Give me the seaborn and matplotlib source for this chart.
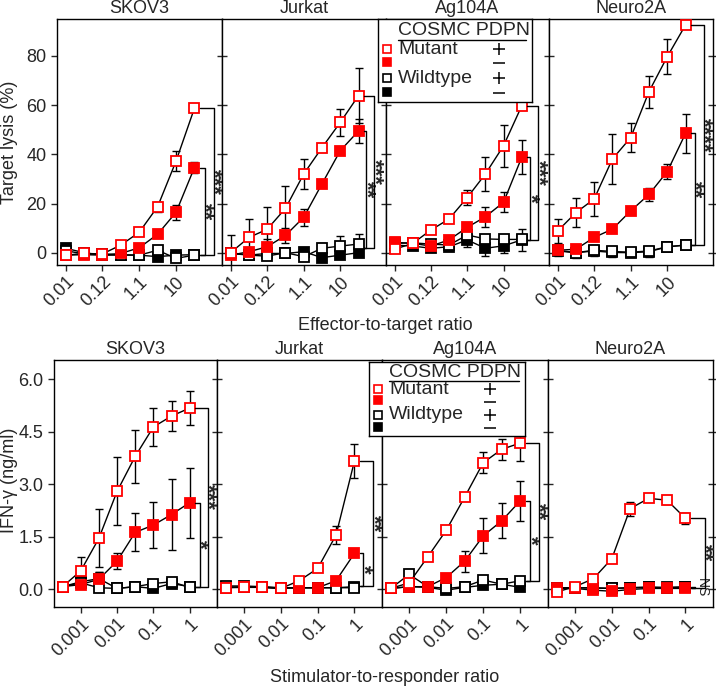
import numpy as np
import pandas as pd
import matplotlib
matplotlib.use("Agg")
import matplotlib.pyplot as plt
import seaborn as sns
from matplotlib.ticker import NullLocator

sns.set_style("ticks")
plt.rcParams["font.family"] = ["Liberation Sans", "DejaVu Sans"]
plt.rcParams["font.size"] = 13

CELLS = ["SKOV3", "Jurkat", "Ag104A", "Neuro2A"]
GROUPS = ["Mutant +", "Mutant -", "Wildtype +", "Wildtype -"]

# x values (3-fold / half-log dilutions)
ET_RATIO = [0.0137, 0.0412, 0.123, 0.370, 1.11, 3.33, 10, 30]
ET_LABELS = ["0.01", "0.12", "1.1", "10"]
SR_RATIO = [0.000316, 0.001, 0.00316, 0.01, 0.0316, 0.1, 0.316, 1]
SR_LABELS = ["0.001", "0.01", "0.1", "1"]

# target lysis (%) - rows follow GROUPS
SKOV3_LYSIS = [[-1.0, -0.3, -0.5, 3.1, 8.3, 18.7, 37.2, 58.7],
               [-1.0, -0.8, -1.0, -0.3, 2.0, 7.5, 16.4, 34.6],
               [0.8, -0.5, -0.5, -0.8, -1.0, 1.0, -2.3, -1.0],
               [1.8, 0.0, -1.0, -1.0, -1.0, -1.6, -1.0, -0.8]]
SKOV3_LYSIS_ERR = [[1, 0.5, 0.5, 1, 1, 2, 4, 1],
                   [1, 0.5, 0.5, 1, 1, 1, 3, 2.2],
                   [1, 0.5, 0.5, 0.5, 0.5, 1, 1.5, 0.5],
                   [0.5, 0.5, 0.5, 0.5, 0.5, 0.5, 0.5, 0.5]]
JURKAT_LYSIS = [[0.0, 6.2, 9.5, 18.0, 32.0, 42.7, 53.0, 63.9],
                [-1.0, 0.4, 2.4, 7.0, 14.4, 28.0, 41.5, 49.5],
                [0.0, -1.0, -1.4, 0.0, -1.6, 1.8, 2.7, 3.5],
                [-0.3, -1.0, -0.3, -0.3, 0.4, -2.0, -1.0, 0.0]]
JURKAT_LYSIS_ERR = [[7, 7.7, 9, 9, 6, 1, 5.6, 11],
                    [1, 1, 3, 3, 3.5, 1, 1, 5],
                    [1, 1, 1, 1, 1.5, 2, 4, 4],
                    [1, 0.5, 0.5, 0.5, 1, 1, 1, 1]]
AG104A_LYSIS = [[1.4, 3.8, 9.2, 13.7, 22.4, 32.0, 43.5, 59.7],
                [4.2, 3.8, 2.7, 5.2, 10.3, 14.6, 20.5, 38.8],
                [3.8, 4.0, 3.5, 3.1, 7.2, 5.6, 5.4, 5.4],
                [3.1, 2.7, 1.8, 2.4, 5.2, 1.8, 2.8, 5.2]]
AG104A_LYSIS_ERR = [[0.5, 0.5, 0.5, 1, 3, 7, 8.5, 1],
                    [0.5, 0.5, 0.5, 1, 1, 4, 4, 7],
                    [0.5, 1, 1, 1, 2, 1, 1, 1],
                    [0.5, 0.5, 1, 1, 3, 3, 3, 4.5]]
NEURO2A_LYSIS = [[8.8, 16.3, 21.8, 38.1, 46.8, 65.5, 79.7, 92.6],
                 [1.0, 1.4, 6.2, 9.6, 17.0, 23.7, 33.0, 48.5],
                 [1.0, 0.0, 1.0, 0.5, 0.2, 0.7, 2.4, 3.1],
                 [0.7, 0.0, 0.7, 0.1, 0.0, 0.4, 2.4, 3.1]]
NEURO2A_LYSIS_ERR = [[5, 6, 7, 10, 6, 6.5, 7, 0.5],
                     [1, 1, 1, 1, 1, 2.5, 3, 8],
                     [2, 2, 2, 2, 1, 2, 1, 1],
                     [2, 1, 2, 2, 1, 2, 1, 1]]

# IFN-gamma (ng/ml) - rows follow GROUPS
SKOV3_IFN = [[0.08, 0.53, 1.46, 2.80, 3.80, 4.64, 4.95, 5.18],
             [0.08, 0.14, 0.29, 0.81, 1.63, 1.84, 2.14, 2.48],
             [0.08, 0.19, 0.05, 0.03, 0.08, 0.17, 0.22, 0.06],
             [0.08, 0.22, 0.31, 0.03, 0.08, 0.03, 0.17, 0.08]]
SKOV3_IFN_ERR = [[0.02, 0.40, 0.83, 0.97, 0.75, 0.55, 0.44, 0.48],
                 [0.02, 0.10, 0.20, 0.23, 0.54, 0.65, 1.00, 1.00],
                 [0.02, 0.05, 0.03, 0.03, 0.03, 0.05, 0.05, 0.03],
                 [0.02, 0.10, 0.20, 0.03, 0.03, 0.03, 0.05, 0.03]]
JURKAT_IFN = [[0.05, 0.08, 0.06, 0.03, 0.25, 0.60, 1.55, 3.66],
              [0.05, 0.06, 0.06, 0.03, 0.05, 0.05, 0.25, 1.03],
              [0.10, 0.10, 0.08, 0.05, 0.05, 0.05, 0.05, 0.05],
              [0.07, 0.06, 0.07, 0.04, 0.05, 0.05, 0.05, 0.08]]
JURKAT_IFN_ERR = [[0.02, 0.02, 0.02, 0.02, 0.05, 0.05, 0.25, 0.48],
                  [0.02, 0.02, 0.02, 0.02, 0.02, 0.02, 0.05, 0.05],
                  [0.02, 0.02, 0.02, 0.02, 0.02, 0.02, 0.02, 0.03],
                  [0.02, 0.02, 0.02, 0.02, 0.02, 0.02, 0.02, 0.03]]
AG104A_IFN = [[0.03, 0.19, 0.93, 1.69, 2.64, 3.62, 4.00, 4.18],
              [0.03, 0.08, 0.08, 0.34, 0.81, 1.53, 1.96, 2.53],
              [0.03, 0.43, 0.08, 0.03, 0.08, 0.27, 0.15, 0.25],
              [0.03, 0.08, 0.06, -0.02, 0.06, 0.12, 0.15, 0.06]]
AG104A_IFN_ERR = [[0.02, 0.05, 0.02, 0.05, 0.05, 0.30, 0.30, 0.50],
                  [0.02, 0.02, 0.02, 0.05, 0.30, 0.50, 0.50, 0.58],
                  [0.02, 0.15, 0.03, 0.03, 0.03, 0.10, 0.05, 0.08],
                  [0.02, 0.03, 0.03, 0.03, 0.03, 0.05, 0.05, 0.03]]
NEURO2A_IFN = [[-0.07, 0.08, 0.31, 0.88, 2.31, 2.60, 2.55, 2.03],
               [0.03, 0.03, -0.02, -0.05, 0.0, 0.03, 0.03, 0.03],
               [0.05, 0.05, 0.05, 0.03, 0.05, 0.06, 0.06, 0.08],
               [0.05, 0.05, 0.04, 0.03, 0.05, 0.07, 0.05, 0.06]]
NEURO2A_IFN_ERR = [[0.02, 0.02, 0.02, 0.02, 0.20, 0.05, 0.10, 0.15],
                   [0.02, 0.02, 0.02, 0.02, 0.02, 0.02, 0.02, 0.02],
                   [0.02, 0.02, 0.02, 0.02, 0.02, 0.02, 0.02, 0.02],
                   [0.02, 0.02, 0.02, 0.02, 0.02, 0.02, 0.02, 0.02]]

# significance brackets: (top, bottom, offset in dilution steps, label)
LYSIS_SIG = [[(34.6, -1, 0.55, "**"), (58.7, -1, 1.05, "***")],
             [(49.5, 2, 0.42, "**"), (63.9, 2, 0.86, "***")],
             [(38.8, 5.2, 0.47, "*"), (59.7, 5.2, 0.9, "***")],
             [(48.5, 3.1, 0.5, "**"), (92.6, 3.1, 1.0, "****")]]
IFN_SIG = [[(2.48, 0.08, 0.55, "*"), (5.18, 0.08, 1.0, "***")],
           [(1.03, 0.10, 0.48, "*"), (3.66, 0.10, 1.03, "**")],
           [(2.53, 0.25, 0.55, "*"), (4.18, 0.25, 1.0, "**")],
           [(0.08, 0.03, 0.5, "NS"), (2.03, 0.05, 1.06, "**")]]

STYLE = {"Mutant +": ("white", "red"), "Mutant -": ("red", "red"),
         "Wildtype +": ("white", "black"), "Wildtype -": ("black", "black")}

W, H = 716, 688
fig = plt.figure(figsize=(W / 100, H / 100), dpi=100)


def px_axes(x0, x1, y0, y1):
    return fig.add_axes([x0 / W, 1 - y1 / H, (x1 - x0) / W, (y1 - y0) / H])


def to_long(ratio, values, errors):
    rows = []
    for g, vals, errs in zip(GROUPS, values, errors):
        for r, v, e in zip(ratio, vals, errs):
            rows.append({"group": g, "ratio": r, "value": v, "err": e})
    return pd.DataFrame(rows)


def draw_panel(ax, df):
    ax.set_xscale("log")
    for g in GROUPS[::-1]:
        sub = df[df["group"] == g]
        fc, ec = STYLE[g]
        ax.errorbar(sub["ratio"], sub["value"], yerr=sub["err"], fmt="none",
                    ecolor="black", elinewidth=1, capsize=3.2, capthick=1, zorder=2)
        sns.lineplot(data=sub, x="ratio", y="value", ax=ax, color="black", lw=1,
                     marker="s", markersize=7, markerfacecolor=fc,
                     markeredgecolor=ec, markeredgewidth=1.3,
                     estimator=None, sort=False, legend=False, zorder=3)


def bracket(ax, x_last, step, top, bot, off, label):
    x0 = x_last * step ** 0.3
    xb = x_last * step ** off
    ax.plot([x0, xb, xb, x0], [top, top, bot, bot], color="black", lw=1,
            clip_on=False, zorder=4)
    if label == "NS":
        ax.annotate(label, (xb, (top + bot) / 2), xytext=(0.5, 0),
                    textcoords="offset points", rotation=-90, ha="left",
                    va="center", fontsize=10, annotation_clip=False)
    else:
        # asterisks sit high in the em box, so centring puts them right of the line
        ax.annotate(label, (xb, (top + bot) / 2), xytext=(-0.5, 0),
                    textcoords="offset points", rotation=-90, ha="center",
                    va="center", fontsize=16, fontweight="bold",
                    annotation_clip=False)


def draw_row(xs, ys, ratio, step, ticks, labels, tables, sigs, ylim, yticks,
             yticklabels):
    for i, cell in enumerate(CELLS):
        ax = px_axes(xs[i], xs[i + 1], ys[0], ys[1])
        vals, errs = tables[i]
        draw_panel(ax, to_long(ratio, vals, errs))
        for top, bot, off, lab in sigs[i]:
            bracket(ax, ratio[-1], step, top, bot, off, lab)
        ax.set_xlim(ratio[0] / step ** 0.47, ratio[-1] * step ** 1.5)
        ax.set_ylim(*ylim)
        ax.set_xticks(ticks)
        ax.set_xticklabels(labels, rotation=45, ha="right",
                           rotation_mode="anchor", fontsize=13)
        ax.xaxis.set_minor_locator(NullLocator())
        ax.tick_params(axis="x", length=4, width=1, pad=2)
        ax.set_yticks(yticks)
        if i == 0:
            ax.set_yticklabels(yticklabels, fontsize=13)
            ax.tick_params(axis="y", length=4, width=1, direction="out")
        else:
            ax.set_yticklabels([])
            ax.tick_params(axis="y", length=7, width=1, direction="inout")
        if i == len(CELLS) - 1:
            ax.tick_params(axis="y", right=True, direction="inout", length=7)
        ax.set_xlabel("")
        ax.set_ylabel("")
        ax.set_title(cell, fontsize=13, pad=4)
        for s in ax.spines.values():
            s.set_linewidth(1)
            s.set_color("black")


def draw_legend(x0, x1, y0, y1):
    lax = px_axes(x0, x1, y0, y1)
    w, h = x1 - x0, y1 - y0
    lax.set_xlim(0, w)
    lax.set_ylim(h, 0)
    lax.set_xticks([])
    lax.set_yticks([])
    lax.set_facecolor("white")
    for s in lax.spines.values():
        s.set_linewidth(1)
        s.set_color("black")
    lax.text(20, 0.14 * h, "COSMC PDPN", va="center", ha="left", fontsize=14)
    lax.plot([20, w - 6], [0.26 * h] * 2, color="black", lw=1)
    names = ["Mutant", "", "Wildtype", ""]
    signs = ["+", "_", "+", "_"]
    for g, fr, name, sign in zip(GROUPS, [0.37, 0.52, 0.715, 0.875], names, signs):
        fc, ec = STYLE[g]
        lax.plot([9], [fr * h], marker="s", ms=5.5, mfc=fc, mec=ec, mew=1.2)
        lax.text(20, fr * h, name, va="center", ha="left", fontsize=14)
        # +/- drawn as plain glyph markers so the rows can sit tight
        lax.plot([121], [fr * h + (1.5 if sign == "_" else 0)], marker=sign,
                 ms=8, mew=1.1, color="black")


lysis_tables = [(SKOV3_LYSIS, SKOV3_LYSIS_ERR), (JURKAT_LYSIS, JURKAT_LYSIS_ERR),
                (AG104A_LYSIS, AG104A_LYSIS_ERR), (NEURO2A_LYSIS, NEURO2A_LYSIS_ERR)]
ifn_tables = [(SKOV3_IFN, SKOV3_IFN_ERR), (JURKAT_IFN, JURKAT_IFN_ERR),
              (AG104A_IFN, AG104A_IFN_ERR), (NEURO2A_IFN, NEURO2A_IFN_ERR)]

draw_row([57, 222, 386, 549, 713], (19, 265), ET_RATIO, 3.0, ET_RATIO[0::2],
         ET_LABELS, lysis_tables, LYSIS_SIG, (-5, 95), [0, 20, 40, 60, 80],
         ["0", "20", "40", "60", "80"])
draw_row([54, 217, 382, 548, 713], (360, 607), SR_RATIO, np.sqrt(10),
         SR_RATIO[1::2], SR_LABELS, ifn_tables, IFN_SIG, (-0.5, 6.55),
         [0, 1.5, 3.0, 4.5, 6.0], ["0.0", "1.5", "3.0", "4.5", "6.0"])

draw_legend(378, 532, 18.5, 102)
draw_legend(369, 525, 362, 436)

fig.text(10 / W, 1 - 142 / H, "Target lysis (%)", rotation=90, ha="center",
         va="center", fontsize=13)
fig.text(10 / W, 1 - 480 / H, "IFN-\u03b3 (ng/ml)", rotation=90, ha="center",
         va="center", fontsize=13)
fig.text(385 / W, 1 - 326 / H, "Effector-to-target ratio", ha="center",
         va="center", fontsize=13)
fig.text(385 / W, 1 - 677 / H, "Stimulator-to-responder ratio", ha="center",
         va="center", fontsize=13)

fig.savefig("out.png", dpi=100)
